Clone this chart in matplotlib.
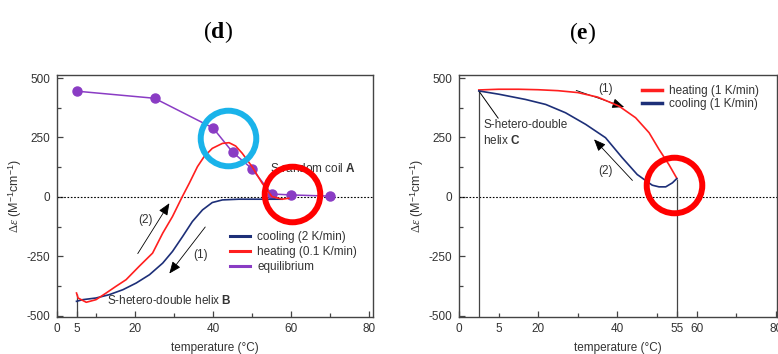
import matplotlib
matplotlib.use('Agg')
import matplotlib.pyplot as plt
from matplotlib.lines import Line2D

plt.rcParams['font.family'] = ['Liberation Sans', 'DejaVu Sans']
plt.rcParams['mathtext.fontset'] = 'custom'
plt.rcParams['mathtext.rm'] = 'Liberation Serif'
plt.rcParams['mathtext.it'] = 'Liberation Serif:italic'
plt.rcParams['mathtext.bf'] = 'Liberation Serif:bold'
plt.rcParams['mathtext.sf'] = 'Liberation Sans:bold'
plt.rcParams['axes.unicode_minus'] = False

# --- panel (d) ---
heat_d_x = [5, 5.4, 7.5, 10, 12.6, 15.1, 17.7, 21.1, 24.5, 27.1, 29.6, 32, 33.9, 36, 37.7,
            39.8, 42.4, 44.1, 45.8, 47.5, 50, 52.6, 55.1, 57.7, 59.4]
heat_d_y = [-405, -426, -444, -433, -405, -377, -349, -292, -237, -153, -83, -3, 57, 127, 169,
            204, 225, 228, 214, 183, 127, 57, 1, -10, -6]
cool_d_x = [5, 6.6, 10, 13.4, 16.9, 20.3, 23.7, 27.1, 29.6, 32.2, 34.7, 37.3, 39.8, 42.4,
            46.6, 50.9, 57.7]
cool_d_y = [-440, -433, -426, -412, -391, -363, -328, -279, -230, -167, -104, -55, -24, -13,
            -10, -10, -10]
eq_x = [5, 25, 40, 45, 50, 55, 60, 70]
eq_y = [445, 415, 290, 188, 118, 12, 8, 3]

# --- panel (e) ---
heat_e_x = [5, 10, 15, 20, 25, 30, 35, 40.4, 44.6, 48, 50.5, 53, 55]
heat_e_y = [450, 453, 453, 451, 447, 439, 420, 382, 333, 270, 200, 136, 78]
cool_e_x = [5, 10.1, 16.8, 21.9, 26.9, 32, 37, 41.2, 45, 47.1, 48.8, 50.5, 52.2, 53.9, 55]
cool_e_y = [446, 432, 410, 389, 354, 305, 249, 165, 94, 69, 49, 42, 42, 59, 77]

RED = '#ff1f1f'
BLUE = '#1d2f78'
PURPLE = '#8a3cc4'
CYAN = '#1ab3ea'
GREY = '#333333'

yticks = [-500, -250, 0, 250, 500]
yticks_minor = [-375, -125, 125, 375]

fig = plt.figure(figsize=(7.78, 3.54), dpi=100)
ax1 = fig.add_axes([57/778, 37/354, 316/778, 242/354])
ax2 = fig.add_axes([459/778, 37/354, 318/778, 242/354])


def style(ax, xlim):
    ax.set_xlim(*xlim)
    ax.set_ylim(-506, 513)
    for s in ax.spines.values():
        s.set_color('#444444')
        s.set_linewidth(1.0)
    ax.set_yticks(yticks)
    ax.set_yticklabels([str(v) for v in yticks])
    ax.set_yticks(yticks_minor, minor=True)
    ax.tick_params(which='both', direction='in', colors='#444444', labelcolor=GREY,
                   labelsize=8.5)
    ax.tick_params(which='major', length=4.5, width=0.9)
    ax.tick_params(which='minor', length=3, width=0.9)
    ax.tick_params(axis='y', which='both', pad=5)
    ax.tick_params(axis='x', which='both', pad=4)
    ax.axhline(0, color='k', lw=0.8, ls=(0, (1.5, 1.5)))
    ax.set_xlabel('temperature (°C)', fontsize=8.5, color=GREY, labelpad=5)
    ax.set_ylabel(r'$\Delta\varepsilon$ (M$^{\mathregular{-1}}$cm$^{\mathregular{-1}}$)',
                  fontsize=9, color=GREY, labelpad=2)


# panel (d)
style(ax1, (0, 81))
ax1.set_xticks([0, 5, 20, 40, 60, 80])
ax1.set_xticklabels(['0', '5', '20', '40', '60', '80'])
ax1.set_xticks([10, 30, 50, 70], minor=True)
ax1.vlines(5, -506, -410, color='#444444', lw=0.9)
ax1.plot(eq_x, eq_y, color=PURPLE, lw=1.1, marker='o', ms=6.5, zorder=3)
ax1.plot(cool_d_x, cool_d_y, color=BLUE, lw=1.2, zorder=4)
ax1.plot(heat_d_x, heat_d_y, color=RED, lw=1.2, zorder=4)
ax1.text(54.6, 120, r'S-random coil $\mathsf{A}$', fontsize=8.5, color=GREY, va='center')
ax1.text(12.8, -438, r'S-hetero-double helix $\mathsf{B}$', fontsize=8.5, color=GREY,
         va='center')
arrow = dict(arrowstyle='-|>,head_length=0.6,head_width=0.25', color='k', lw=0.6,
             mutation_scale=12, shrinkA=0, shrinkB=0)
ax1.annotate('', xy=(28.8, -27), xytext=(20.7, -239), arrowprops=arrow)
ax1.annotate('', xy=(28.8, -323), xytext=(38, -127), arrowprops=arrow)
ax1.text(22.6, -97, '(2)', fontsize=8.5, color=GREY, ha='center', va='center')
ax1.text(36.9, -244, '(1)', fontsize=8.5, color=GREY, ha='center', va='center')
ax1.plot([43.8], [247], marker='o', ms=40, mfc='none', mec=CYAN, mew=4.3, zorder=6)
ax1.plot([60.3], [13], marker='o', ms=40, mfc='none', mec='#ff0000', mew=4.3, zorder=6)
h1 = [Line2D([], [], color=BLUE, lw=2.2), Line2D([], [], color=RED, lw=2.2),
      Line2D([], [], color=PURPLE, lw=2.2)]
ax1.legend(h1, ['cooling (2 K/min)', 'heating (0.1 K/min)', 'equilibrium'],
           loc='upper left', bbox_to_anchor=(0.547, 0.355), frameon=False, fontsize=8.5,
           handlelength=1.7, handletextpad=0.6, labelspacing=0.25, borderpad=0,
           borderaxespad=0, labelcolor=GREY)

# panel (e)
style(ax2, (0, 80.3))
ax2.set_xticks([0, 20, 40, 55, 60, 80])
ax2.set_xticklabels(['0', '20', '40', '55', '60', '80'])
ax2.set_xticks([10, 30, 50, 70], minor=True)
ax2.set_xticklabels(['5', '', '', ''], minor=True)
ax2.vlines(5, -506, 446, color='#444444', lw=0.9)
ax2.vlines(55, -506, 77, color='#444444', lw=0.9)
ax2.plot(heat_e_x, heat_e_y, color=RED, lw=1.2, zorder=4)
ax2.plot(cool_e_x, cool_e_y, color=BLUE, lw=1.2, zorder=4)
ax2.text(6.1, 270, 'S-hetero-double\nhelix $\\mathsf{C}$', fontsize=8.5, color=GREY,
         va='center', linespacing=1.3)
ax2.annotate('', xy=(5, 446), xytext=(9.9, 331),
             arrowprops=dict(arrowstyle='-', color='k', lw=0.7, shrinkA=0, shrinkB=0))
ax2.annotate('', xy=(41.7, 378), xytext=(29.6, 448), arrowprops=arrow)
ax2.annotate('', xy=(34.1, 242), xytext=(43.8, 69), arrowprops=arrow)
ax2.text(37, 453, '(1)', fontsize=8.5, color=GREY, ha='center', va='center')
ax2.text(37, 108, '(2)', fontsize=8.5, color=GREY, ha='center', va='center')
ax2.plot([54.4], [48.5], marker='o', ms=40, mfc='none', mec='#ff0000', mew=4.3, zorder=6)
h2 = [Line2D([], [], color=RED, lw=2.5), Line2D([], [], color=BLUE, lw=2.5)]
ax2.legend(h2, ['heating (1 K/min)', 'cooling (1 K/min)'],
           loc='upper left', bbox_to_anchor=(0.5745, 0.958), frameon=False, fontsize=8.5,
           handlelength=1.7, handletextpad=0.6, labelspacing=0.05, borderpad=0,
           borderaxespad=0, labelcolor=GREY)

fig.text(218/778, 1 - 32/354, r'($\mathbf{d}$)', fontsize=17, family='Liberation Serif',
         ha='center', va='center')
fig.text(583/778, 1 - 33/354, r'($\mathbf{e}$)', fontsize=17, family='Liberation Serif',
         ha='center', va='center')

fig.savefig('out.png', dpi=100)
